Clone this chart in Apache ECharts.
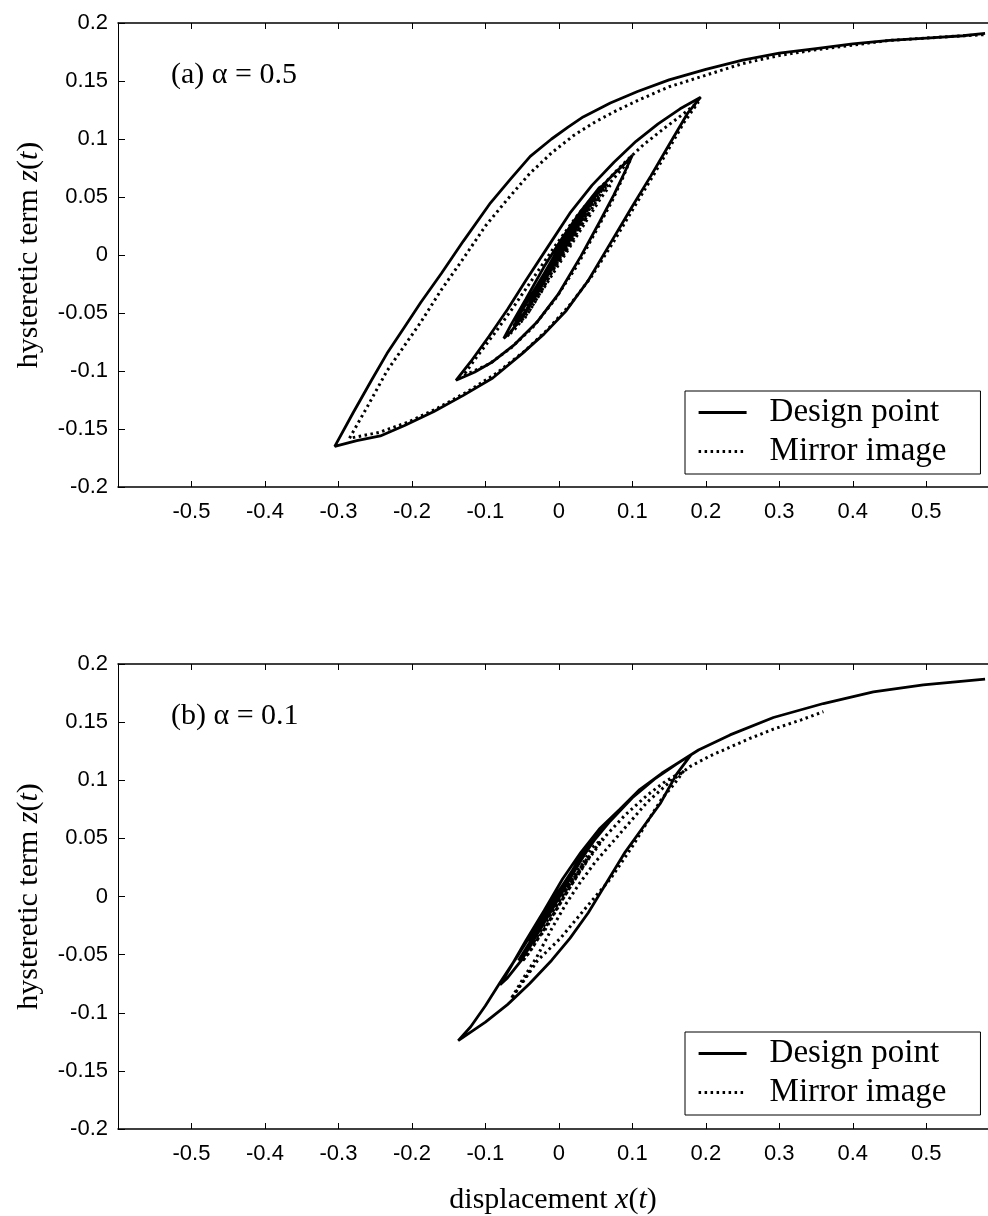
<!DOCTYPE html>
<html>
<head>
<meta charset="utf-8">
<script src="https://cdn.jsdelivr.net/npm/echarts@6/dist/echarts.min.js"></script>
<style>
  html, body { margin: 0; padding: 0; background: #fff; }
  #chart { width: 988px; height: 1216px; }
</style>
</head>
<body>
<div id="chart"></div>
<script>
// Hysteresis loops of the hysteretic term z(t) against displacement x(t)
// (a) alpha = 0.5, (b) alpha = 0.1; design point vs. its mirror image.

const xTicksMin = -0.6, xTicksMax = 0.584, xStep = 0.1;
const yTicksMin = -0.2, yTicksMax = 0.2, yStep = 0.05;
const panelLabels = ['(a) \u03b1 = 0.5', '(b) \u03b1 = 0.1'];
const legendNames = ['Design point', 'Mirror image'];

// (a) alpha = 0.5 — design point response, in time order
const designA = [
  [0, 0], [0.012, 0.012], [0.02, 0.02], [0.01, 0.013], [-0.01, -0.008], [-0.02, -0.019],
  [-0.01, -0.012], [0.01, 0.008], [0.03, 0.03], [0.035, 0.036], [0.02, 0.024], [0, 0.004],
  [-0.02, -0.018], [-0.035, -0.034], [-0.04, -0.04], [-0.03, -0.033], [-0.01, -0.012],
  [0.01, 0.01], [0.03, 0.031], [0.045, 0.046], [0.05, 0.05], [0.04, 0.044], [0.02, 0.026],
  [0, 0.006], [-0.02, -0.016], [-0.04, -0.037], [-0.055, -0.053], [-0.06, -0.06],
  [-0.05, -0.054], [-0.03, -0.034], [-0.01, -0.012], [0.01, 0.01], [0.03, 0.032],
  [0.05, 0.051], [0.06, 0.058], [0.065, 0.062], [0.055, 0.058], [0.035, 0.042],
  [0.015, 0.02], [-0.005, -0.002], [-0.025, -0.026], [-0.045, -0.048], [-0.065, -0.066],
  [-0.075, -0.072],
  [-0.065, -0.06], [-0.045, -0.038], [-0.02, -0.01], [0.005, 0.015], [0.03, 0.038],
  [0.055, 0.057], [0.075, 0.07], [0.09, 0.079], [0.1, 0.086],
  [0.09, 0.072], [0.075, 0.052], [0.055, 0.028], [0.03, -0.001], [0, -0.033],
  [-0.03, -0.058], [-0.06, -0.077], [-0.09, -0.092], [-0.115, -0.101], [-0.14, -0.108],
  [-0.12, -0.092], [-0.095, -0.07], [-0.07, -0.047], [-0.045, -0.022], [-0.015, 0.007],
  [0.015, 0.036], [0.045, 0.06], [0.075, 0.08], [0.105, 0.098], [0.135, 0.113],
  [0.165, 0.126], [0.193, 0.136],
  [0.175, 0.122], [0.15, 0.095], [0.125, 0.068], [0.1, 0.042], [0.07, 0.01],
  [0.04, -0.022], [0.01, -0.048], [-0.02, -0.068], [-0.05, -0.085], [-0.09, -0.106],
  [-0.13, -0.121], [-0.17, -0.135], [-0.21, -0.147], [-0.243, -0.156], [-0.275, -0.16],
  [-0.305, -0.165],
  [-0.28, -0.136], [-0.255, -0.108], [-0.234, -0.085], [-0.21, -0.062], [-0.188, -0.041],
  [-0.16, -0.016], [-0.13, 0.012], [-0.093, 0.045], [-0.065, 0.066], [-0.039, 0.085],
  [-0.01, 0.1], [0.012, 0.11], [0.033, 0.119], [0.07, 0.131], [0.107, 0.141],
  [0.15, 0.151], [0.2, 0.16], [0.25, 0.168], [0.3, 0.174], [0.35, 0.178], [0.4, 0.182],
  [0.45, 0.185], [0.5, 0.187], [0.55, 0.189], [0.58, 0.191]
];

// (a) alpha = 0.5 — mirror image response
const mirrorA = [
  [0, 0], [0.015, 0.013], [0.025, 0.022], [0.012, 0.012], [-0.008, -0.008], [-0.02, -0.021],
  [-0.008, -0.011], [0.012, 0.008], [0.03, 0.027], [0.04, 0.036], [0.025, 0.026],
  [0.003, 0.004], [-0.018, -0.019], [-0.035, -0.037], [-0.042, -0.043], [-0.028, -0.034],
  [-0.008, -0.013], [0.014, 0.008], [0.035, 0.03], [0.05, 0.045], [0.055, 0.05],
  [0.04, 0.043], [0.02, 0.024], [0, 0.003], [-0.022, -0.02], [-0.04, -0.04],
  [-0.058, -0.057], [-0.062, -0.062], [-0.048, -0.056], [-0.028, -0.036], [-0.006, -0.014],
  [0.016, 0.008], [0.038, 0.03], [0.058, 0.05], [0.07, 0.06], [0.06, 0.057], [0.04, 0.04],
  [0.02, 0.018], [0, -0.004], [-0.02, -0.027], [-0.04, -0.048], [-0.06, -0.064],
  [-0.07, -0.07],
  [-0.058, -0.06], [-0.038, -0.04], [-0.015, -0.015], [0.01, 0.01], [0.035, 0.034],
  [0.06, 0.055], [0.08, 0.07], [0.097, 0.082],
  [0.088, 0.068], [0.072, 0.046], [0.05, 0.02], [0.025, -0.009], [-0.005, -0.038],
  [-0.035, -0.062], [-0.065, -0.08], [-0.095, -0.094], [-0.13, -0.104],
  [-0.112, -0.088], [-0.088, -0.068], [-0.062, -0.045], [-0.035, -0.02], [-0.005, 0.008],
  [0.025, 0.034], [0.055, 0.057], [0.085, 0.077], [0.115, 0.095], [0.145, 0.11],
  [0.17, 0.122], [0.19, 0.132],
  [0.17, 0.114], [0.15, 0.092], [0.128, 0.068], [0.105, 0.044], [0.075, 0.012],
  [0.045, -0.018], [0.015, -0.043], [-0.015, -0.064], [-0.045, -0.082], [-0.085, -0.102],
  [-0.125, -0.118], [-0.165, -0.132], [-0.205, -0.144], [-0.245, -0.153], [-0.285, -0.158],
  [-0.26, -0.13], [-0.234, -0.1], [-0.21, -0.078], [-0.188, -0.058], [-0.16, -0.03],
  [-0.13, -0.003], [-0.1, 0.025], [-0.07, 0.048], [-0.04, 0.07], [-0.01, 0.088],
  [0.02, 0.103], [0.05, 0.115], [0.08, 0.125], [0.11, 0.134], [0.15, 0.145], [0.2, 0.155],
  [0.25, 0.165], [0.3, 0.172], [0.35, 0.177], [0.4, 0.181], [0.45, 0.185], [0.5, 0.187],
  [0.55, 0.189], [0.58, 0.19]
];

// (b) alpha = 0.1 — design point response
const designB = [
  [0, 0], [0.015, 0.016], [0.02, 0.021], [0.008, 0.01], [-0.01, -0.009], [-0.02, -0.02],
  [-0.008, -0.01], [0.012, 0.012], [0.03, 0.031], [0.035, 0.036], [0.02, 0.024], [0, 0.004],
  [-0.02, -0.017], [-0.035, -0.033], [-0.04, -0.039], [-0.025, -0.028], [-0.005, -0.006],
  [0.02, 0.021], [0.04, 0.041], [0.05, 0.05], [0.035, 0.04], [0.015, 0.019], [-0.005, -0.003],
  [-0.025, -0.025], [-0.045, -0.045], [-0.055, -0.055], [-0.04, -0.044], [-0.02, -0.022],
  [0, 0], [0.025, 0.026], [0.045, 0.046], [0.06, 0.058], [0.065, 0.062], [0.05, 0.052],
  [0.03, 0.033], [0.01, 0.011], [-0.01, -0.012], [-0.03, -0.033], [-0.05, -0.054],
  [-0.07, -0.07], [-0.08, -0.076],
  [-0.065, -0.06], [-0.045, -0.038], [-0.02, -0.012], [0.005, 0.015], [0.03, 0.038],
  [0.055, 0.058], [0.083, 0.075], [0.11, 0.092], [0.14, 0.106], [0.16, 0.114], [0.18, 0.122],
  [0.16, 0.105], [0.138, 0.08], [0.115, 0.06], [0.09, 0.038], [0.065, 0.012], [0.04, -0.014],
  [0.015, -0.036], [-0.01, -0.055], [-0.04, -0.075], [-0.07, -0.093], [-0.1, -0.108],
  [-0.137, -0.124],
  [-0.12, -0.112], [-0.1, -0.094], [-0.08, -0.074], [-0.055, -0.05], [-0.03, -0.025],
  [-0.005, 0], [0.02, 0.024], [0.045, 0.046], [0.07, 0.065], [0.1, 0.085], [0.13, 0.101],
  [0.16, 0.114], [0.19, 0.126], [0.233, 0.139], [0.292, 0.154], [0.36, 0.166],
  [0.428, 0.176], [0.496, 0.182], [0.58, 0.187]
];

// (b) alpha = 0.1 — mirror image response
const mirrorB = [
  [0, 0], [0.018, 0.014], [0.025, 0.02], [0.012, 0.01], [-0.008, -0.01], [-0.018, -0.02],
  [-0.005, -0.01], [0.015, 0.01], [0.035, 0.028], [0.042, 0.035], [0.028, 0.025],
  [0.008, 0.004], [-0.015, -0.02], [-0.03, -0.035], [-0.036, -0.041], [-0.02, -0.03],
  [0, -0.008], [0.025, 0.018], [0.048, 0.04], [0.06, 0.05], [0.045, 0.042], [0.025, 0.02],
  [0.005, -0.002], [-0.02, -0.028], [-0.04, -0.048], [-0.05, -0.056],
  [-0.035, -0.043], [-0.01, -0.018], [0.015, 0.008], [0.04, 0.032], [0.065, 0.053],
  [0.09, 0.07], [0.12, 0.087], [0.145, 0.099], [0.17, 0.108],
  [0.156, 0.096], [0.14, 0.084], [0.125, 0.069], [0.101, 0.044], [0.07, 0.015],
  [0.039, -0.008], [0.002, -0.036], [-0.029, -0.055], [-0.045, -0.07], [-0.065, -0.088],
  [-0.05, -0.072], [-0.03, -0.052], [-0.01, -0.028], [0.01, -0.006], [0.03, 0.013],
  [0.05, 0.03], [0.083, 0.054], [0.12, 0.081], [0.15, 0.098], [0.179, 0.112],
  [0.206, 0.121], [0.224, 0.126], [0.26, 0.136], [0.292, 0.144], [0.33, 0.152],
  [0.36, 0.159]
];

const chart = echarts.init(document.getElementById('chart'), null, { renderer: 'canvas' });

const serif = 'Liberation Serif, Times New Roman, serif';
const sans = 'Liberation Sans, Arial, sans-serif';

const grids = [
  { left: 118, top: 23, width: 870, height: 464 },
  { left: 118, top: 664, width: 870, height: 466 }
];

function bottomX(gi, withName) {
  return {
    type: 'value', gridIndex: gi, position: 'bottom',
    min: xTicksMin, max: xTicksMax, interval: xStep,
    axisLine: { show: true, onZero: false, lineStyle: { color: '#000', width: 1.5 } },
    axisTick: { show: true, inside: true, length: 6, lineStyle: { color: '#000' } },
    axisLabel: {
      show: true, margin: 14, color: '#000', fontFamily: sans, fontSize: 22,
      showMinLabel: false, showMaxLabel: false
    },
    splitLine: { show: false },
    name: withName ? '{n|displacement }{i|x}{n|(}{i|t}{n|)}' : '',
    nameLocation: 'middle', nameGap: 56,
    nameTextStyle: {
      color: '#000',
      rich: {
        n: { fontFamily: serif, fontSize: 30, color: '#000' },
        i: { fontFamily: serif, fontSize: 30, fontStyle: 'italic', color: '#000' }
      }
    }
  };
}

function topX(gi) {
  return {
    type: 'value', gridIndex: gi, position: 'top',
    min: xTicksMin, max: xTicksMax, interval: xStep,
    axisLine: { show: true, onZero: false, lineStyle: { color: '#000', width: 1.5 } },
    axisTick: { show: true, inside: true, length: 6, lineStyle: { color: '#000' } },
    axisLabel: { show: false },
    splitLine: { show: false }
  };
}

function leftY(gi) {
  return {
    type: 'value', gridIndex: gi,
    min: yTicksMin, max: yTicksMax, interval: yStep,
    axisLine: { show: true, onZero: false, lineStyle: { color: '#000', width: 1 } },
    axisTick: { show: true, inside: true, length: 7, lineStyle: { color: '#000' } },
    axisLabel: { show: true, margin: 10, color: '#000', fontFamily: sans, fontSize: 22 },
    splitLine: { show: false },
    name: '{n|hysteretic term }{i|z}{n|(}{i|t}{n|)}',
    nameLocation: 'middle', nameRotate: 90, nameGap: 74,
    nameTextStyle: {
      color: '#000',
      rich: {
        n: { fontFamily: serif, fontSize: 30, color: '#000' },
        i: { fontFamily: serif, fontSize: 30, fontStyle: 'italic', color: '#000' }
      }
    }
  };
}

function solid(name, data, gi) {
  return {
    type: 'line', name, data, xAxisIndex: gi * 2, yAxisIndex: gi,
    symbol: 'none', smooth: false, clip: true, animation: false,
    itemStyle: { color: '#000' },
    lineStyle: { color: '#000', width: 2.8 }
  };
}
function dotted(name, data, gi) {
  return {
    type: 'line', name, data, xAxisIndex: gi * 2, yAxisIndex: gi,
    symbol: 'none', smooth: false, clip: true, animation: false,
    itemStyle: { color: '#000' },
    lineStyle: { color: '#000', width: 3, type: [2.5, 3.5] }
  };
}

function legendAt(top) {
  return {
    orient: 'vertical', left: 685, top: top,
    data: legendNames,
    itemWidth: 48, itemHeight: 14, itemGap: 6,
    itemStyle: { opacity: 0 },
    lineStyle: { width: 3.2 },
    backgroundColor: '#fff', borderColor: '#000', borderWidth: 1,
    padding: [5, 34, 6, 12],
    textStyle: { fontFamily: serif, fontSize: 33, color: '#000', padding: [0, 0, 0, 18] },
    selectedMode: false
  };
}

const option = {
  backgroundColor: '#fff',
  animation: false,
  grid: grids,
  xAxis: [bottomX(0, false), topX(0), bottomX(1, true), topX(1)],
  yAxis: [leftY(0), leftY(1)],
  title: [
    { text: panelLabels[0], left: 166, top: 55,
      textStyle: { fontFamily: serif, fontSize: 30, fontWeight: 'normal', color: '#000' } },
    { text: panelLabels[1], left: 166, top: 696,
      textStyle: { fontFamily: serif, fontSize: 30, fontWeight: 'normal', color: '#000' } }
  ],
  legend: [legendAt(391), legendAt(1032)],
  series: [
    solid(legendNames[0], designA, 0),
    dotted(legendNames[1], mirrorA, 0),
    solid(legendNames[0], designB, 1),
    dotted(legendNames[1], mirrorB, 1)
  ]
};

chart.setOption(option);
</script>
</body>
</html>
